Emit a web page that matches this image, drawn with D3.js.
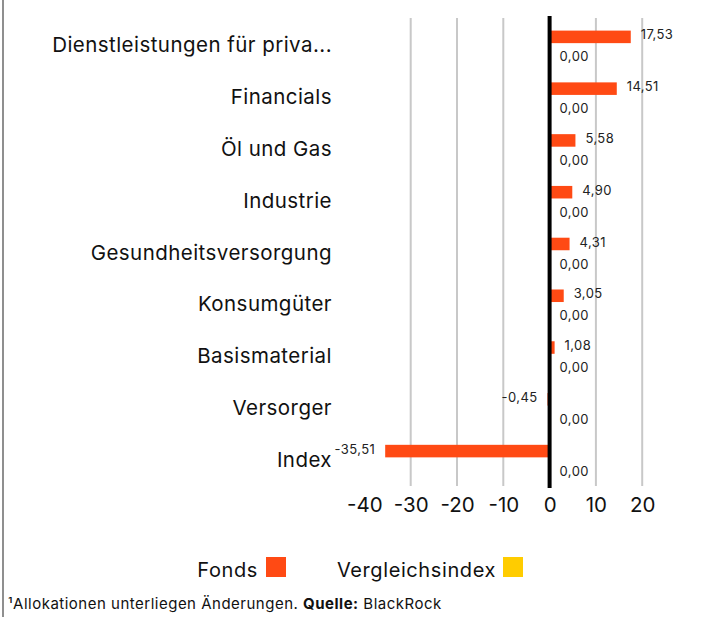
<!DOCTYPE html>
<html>
<head>
<meta charset="utf-8">
<script src="https://cdn.jsdelivr.net/npm/d3@7"></script>
<style>
  body { margin: 0; background: #fff; }
  svg { display: block; font-family: Inter, "Liberation Sans", Arial, sans-serif; }
</style>
</head>
<body>
<svg id="chart" width="718" height="617"></svg>
<script>
const categories = [
  'Dienstleistungen für priva...',
  'Financials',
  'Öl und Gas',
  'Industrie',
  'Gesundheitsversorgung',
  'Konsumgüter',
  'Basismaterial',
  'Versorger',
  'Index',
];
const fonds = [17.53, 14.51, 5.58, 4.9, 4.31, 3.05, 1.08, -0.45, -35.51];
const vergleichsindex = [0, 0, 0, 0, 0, 0, 0, 0, 0];
const seriesNames = ['Fonds', 'Vergleichsindex'];
const seriesColours = ['#ff4a14', '#ffcc00'];
const xTicks = [-40, -30, -20, -10, 0, 10, 20];

const svg = d3.select('#chart');
const height = 617;

const de = d3.formatLocale({ decimal: ',', thousands: '.', grouping: [3], currency: ['', '€'], minus: '-' });
const fmt = de.format('.2f');
const tickFmt = de.format('d');

const x = d3.scaleLinear().domain([-40, 20]).range([364.4, 642.2]);
const y = d3.scaleBand().domain(categories).range([20, 486]);
const ySub = d3.scaleBand().domain(seriesNames).range([10.6, 41.2]).paddingInner(0.306);

// left border of the panel
svg.append('rect')
  .attr('x', 2).attr('y', 0)
  .attr('width', 2).attr('height', height)
  .attr('fill', '#8f8f8f');

// grid
svg.append('g')
  .selectAll('line')
  .data(xTicks.filter((t) => t !== 0 && t !== -40))
  .join('line')
  .attr('x1', (d) => x(d)).attr('x2', (d) => x(d))
  .attr('y1', 18).attr('y2', 486)
  .attr('stroke', '#c8c8c8')
  .attr('stroke-width', 2);

// bars
const rows = categories.map((c, i) => ({ cat: c, values: [fonds[i], vergleichsindex[i]] }));
const groups = svg.append('g')
  .selectAll('g')
  .data(rows)
  .join('g')
  .attr('transform', (d) => 'translate(0,' + y(d.cat) + ')');

groups.selectAll('rect')
  .data((d) => d.values.map((v, j) => ({ v, s: seriesNames[j], c: seriesColours[j] })))
  .join('rect')
  .attr('x', (d) => x(Math.min(0, d.v)))
  .attr('y', (d) => ySub(d.s))
  .attr('width', (d) => Math.abs(x(d.v) - x(0)))
  .attr('height', ySub.bandwidth())
  .attr('fill', (d) => d.c);

groups.selectAll('text.val')
  .data((d) => d.values.map((v, j) => ({ v, s: seriesNames[j] })))
  .join('text')
  .attr('class', 'val')
  .attr('x', (d) => (d.v < 0 ? x(d.v) - 10 : x(d.v) + 10))
  .attr('y', (d) => ySub(d.s) + ySub.bandwidth() / 2 + (d.s === 'Fonds' ? -2 : 2))
  .attr('dy', '0.35em')
  .attr('text-anchor', (d) => (d.v < 0 ? 'end' : 'start'))
  .attr('font-size', 13)
  .attr('letter-spacing', 0.4)
  .attr('fill', '#222')
  .text((d) => fmt(d.v));

// zero line
svg.append('line')
  .attr('x1', x(0)).attr('x2', x(0))
  .attr('y1', 16).attr('y2', 488)
  .attr('stroke', '#000')
  .attr('stroke-width', 4);

// category labels
svg.append('g')
  .attr('transform', 'translate(332,0)')
  .call(d3.axisLeft(y).tickSize(0).tickPadding(0))
  .call((g) => g.select('.domain').remove())
  .selectAll('text')
  .attr('font-size', 20.5)
  .attr('letter-spacing', 0.45)
  .attr('font-family', 'Inter, "Liberation Sans", Arial, sans-serif')
  .attr('fill', '#111');

// x axis
svg.append('g')
  .attr('transform', 'translate(0,497)')
  .call(d3.axisBottom(x).tickValues(xTicks).tickFormat(tickFmt).tickSize(0).tickPadding(0))
  .call((g) => g.select('.domain').remove())
  .selectAll('text')
  .attr('font-size', 20.5)
  .attr('font-family', 'Inter, "Liberation Sans", Arial, sans-serif')
  .attr('fill', '#111');

// legend
const legend = svg.append('g');
const legendItems = [
  { name: seriesNames[0], colour: seriesColours[0], tx: 258, sx: 266 },
  { name: seriesNames[1], colour: seriesColours[1], tx: 496, sx: 503 },
];
legendItems.forEach((it) => {
  legend.append('text')
    .attr('x', it.tx).attr('y', 577)
    .attr('text-anchor', 'end')
    .attr('font-size', 20)
    .attr('letter-spacing', 0.6)
    .attr('fill', '#111')
    .text(it.name);
  legend.append('rect')
    .attr('x', it.sx).attr('y', 557)
    .attr('width', 20).attr('height', 20)
    .attr('fill', it.colour);
});

// footnote
const foot = svg.append('text')
  .attr('x', 8).attr('y', 609)
  .attr('font-size', 15)
  .attr('letter-spacing', 0.5)
  .attr('fill', '#111');
foot.append('tspan').text('¹Allokationen unterliegen Änderungen. ');
foot.append('tspan').attr('font-weight', 'bold').text('Quelle:');
foot.append('tspan').text(' BlackRock');
</script>
</body>
</html>
